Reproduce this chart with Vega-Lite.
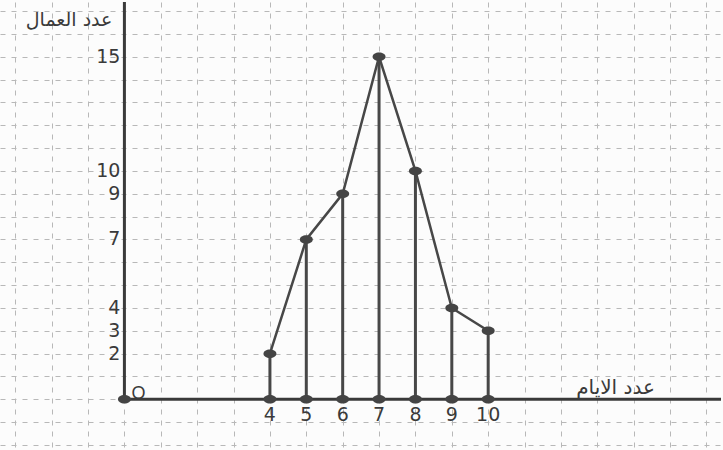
{
  "$schema": "https://vega.github.io/schema/vega-lite/v6.json",
  "width": 723,
  "height": 450,
  "autosize": {"type": "fit", "contains": "padding"},
  "padding": 0,
  "background": "#fcfcfc",
  "config": {"view": {"stroke": null}},
  "data": {"values": [
    {"day": 4, "workers": 2},
    {"day": 5, "workers": 7},
    {"day": 6, "workers": 9},
    {"day": 7, "workers": 15},
    {"day": 8, "workers": 10},
    {"day": 9, "workers": 4},
    {"day": 10, "workers": 3}
  ]},
  "layer": [
    {
      "mark": {"type": "rule", "color": "#474747", "strokeWidth": 3},
      "encoding": {
        "x": {"field": "day", "type": "quantitative",
          "scale": {"domain": [-3.42, 16.4], "nice": false, "zero": false},
          "axis": {"values": [-3,-2,-1,0,1,2,3,4,5,6,7,8,9,10,11,12,13,14,15,16], "tickCount": 40, "grid": true, "gridDash": [5, 6], "gridColor": "#b8b8b8", "gridWidth": 1, "labels": false, "ticks": false, "domain": false, "title": null}},
        "y": {"field": "workers", "type": "quantitative",
          "scale": {"domain": [-2.22, 17.4], "nice": false, "zero": false},
          "axis": {"values": [-2,-1,0,1,2,3,4,5,6,7,8,9,10,11,12,13,14,15,16,17], "tickCount": 40, "grid": true, "gridDash": [5, 6], "gridColor": "#b8b8b8", "gridWidth": 1, "labels": false, "ticks": false, "domain": false, "title": null}},
        "y2": {"datum": 0}
      }
    },
    {
      "data": {"values": [{}]},
      "mark": {"type": "rule", "color": "#3a3a3a", "strokeWidth": 3},
      "encoding": {"x": {"datum": 0}, "y": {"datum": 0}, "y2": {"datum": 17.4}}
    },
    {
      "data": {"values": [{}]},
      "mark": {"type": "rule", "color": "#3a3a3a", "strokeWidth": 3},
      "encoding": {"x": {"datum": 0}, "x2": {"datum": 16.4}, "y": {"datum": 0}}
    },
    {
      "mark": {"type": "line", "color": "#474747", "strokeWidth": 2.5},
      "encoding": {
        "x": {"field": "day", "type": "quantitative"},
        "y": {"field": "workers", "type": "quantitative"}
      }
    },
    {
      "mark": {"type": "point", "filled": true, "opacity": 1, "color": "#444444", "size": 100, "shape": "M-1.3,0A1.3,0.85 0 1,0 1.3,0A1.3,0.85 0 1,0 -1.3,0Z"},
      "encoding": {
        "x": {"field": "day", "type": "quantitative"},
        "y": {"field": "workers", "type": "quantitative"}
      }
    },
    {
      "mark": {"type": "point", "filled": true, "opacity": 1, "color": "#444444", "size": 100, "shape": "M-1.3,0A1.3,0.85 0 1,0 1.3,0A1.3,0.85 0 1,0 -1.3,0Z"},
      "encoding": {
        "x": {"field": "day", "type": "quantitative"},
        "y": {"datum": 0}
      }
    },
    {
      "data": {"values": [{}]},
      "mark": {"type": "point", "filled": true, "opacity": 1, "color": "#444444", "size": 100, "shape": "M-1.3,0A1.3,0.85 0 1,0 1.3,0A1.3,0.85 0 1,0 -1.3,0Z"},
      "encoding": {"x": {"datum": 0}, "y": {"datum": 0}}
    },
    {
      "mark": {"type": "text", "font": "DejaVu Sans", "fontSize": 19, "color": "#3a3a3a", "baseline": "middle", "align": "center", "dy": 16},
      "encoding": {
        "x": {"field": "day", "type": "quantitative"},
        "y": {"datum": 0},
        "text": {"field": "day", "type": "quantitative"}
      }
    },
    {
      "mark": {"type": "text", "font": "DejaVu Sans", "fontSize": 19, "color": "#3a3a3a", "baseline": "middle", "align": "right", "dx": -4},
      "encoding": {
        "x": {"datum": 0},
        "y": {"field": "workers", "type": "quantitative"},
        "text": {"field": "workers", "type": "quantitative"}
      }
    },
    {
      "data": {"values": [{}]},
      "mark": {"type": "text", "text": "O", "font": "Liberation Sans", "fontSize": 18, "color": "#3a3a3a", "baseline": "middle", "align": "center", "dx": 14, "dy": -5},
      "encoding": {"x": {"datum": 0}, "y": {"datum": 0}}
    },
    {
      "data": {"values": [{}]},
      "mark": {"type": "text", "text": "عدد العمال", "font": "DejaVu Sans", "fontSize": 19, "color": "#3a3a3a", "baseline": "middle", "align": "right", "dx": -12},
      "encoding": {"x": {"datum": 0}, "y": {"datum": 16.6}}
    },
    {
      "data": {"values": [{}]},
      "mark": {"type": "text", "text": "عدد الايام", "font": "DejaVu Sans", "fontSize": 20, "color": "#3a3a3a", "baseline": "middle", "align": "center"},
      "encoding": {"x": {"datum": 13.5}, "y": {"datum": 0.48}}
    }
  ]
}
